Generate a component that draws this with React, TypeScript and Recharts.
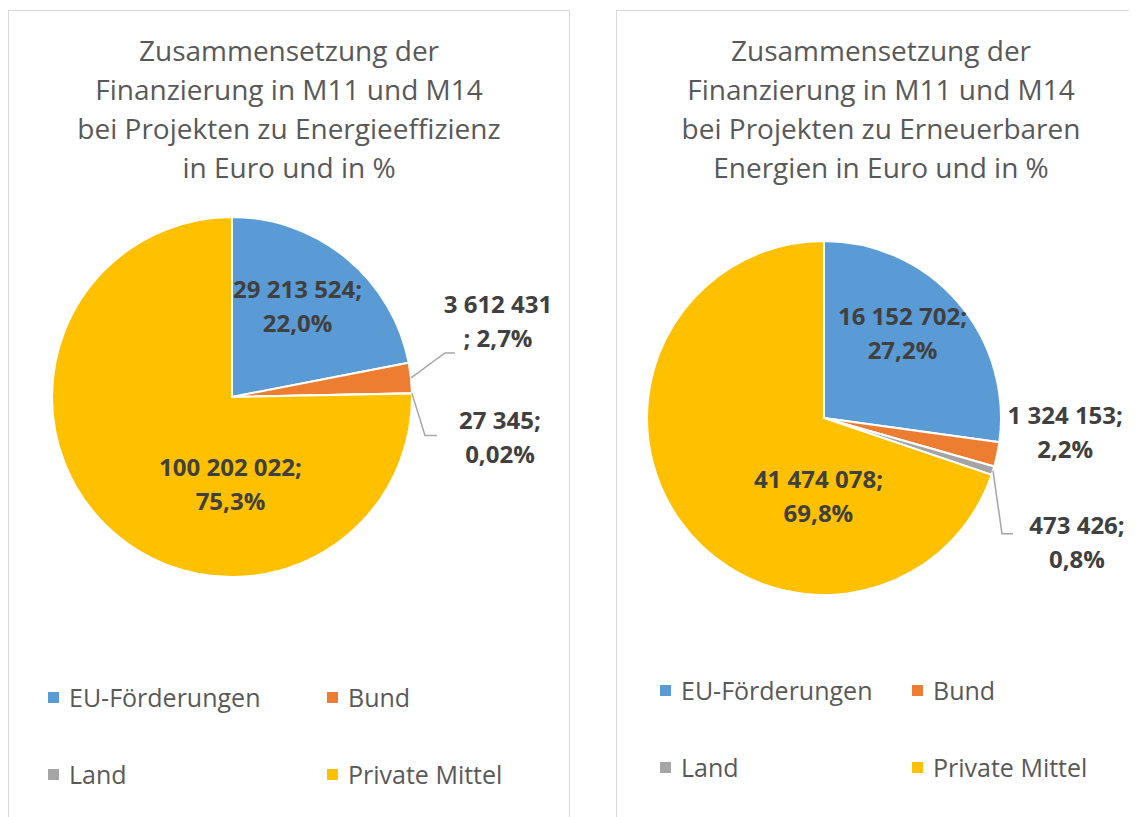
import { Cell, Legend, Pie, PieChart } from "recharts"

const categories = ["EU-Förderungen", "Bund", "Land", "Private Mittel"]
const colors = ["#5B9BD5", "#ED7D31", "#A5A5A5", "#FFC000"]

const effizienzValues = [29213524, 3612431, 27345, 100202022]
const erneuerbarValues = [16152702, 1324153, 473426, 41474078]

const effizienzTitle = [
    "Zusammensetzung der",
    "Finanzierung in M11 und M14",
    "bei Projekten zu Energieeffizienz",
    "in Euro und in %",
]
const erneuerbarTitle = [
    "Zusammensetzung der",
    "Finanzierung in M11 und M14",
    "bei Projekten zu Erneuerbaren",
    "Energien in Euro und in %",
]

// label placement per slice: inside (angle clockwise from top, radius factor)
// or outside (offsets from the slice's outer edge point)
const effizienzLabels = [
    { kind: "inside", angle: 36, radius: 0.62 },
    { kind: "outside", elbow: [34, -25], tail: 10, text: [87, -56], breakBeforeSemicolon: true },
    { kind: "outside", elbow: [13, 42], tail: 12, text: [88, 45] },
    { kind: "inside", angle: 181, radius: 0.49 },
]
const erneuerbarLabels = [
    { kind: "inside", angle: 43, radius: 0.65 },
    { kind: "outside", elbow: null, tail: 0, text: [68, -21] },
    { kind: "outside", elbow: [9, 63], tail: 11, text: [84, 72] },
    { kind: "inside", angle: 184, radius: 0.45 },
]

const FONT = "'Open Sans', 'Noto Sans', sans-serif"
const RAD = Math.PI / 180

const fmtNum = (v: number) => String(v).replace(/\B(?=(\d{3})+(?!\d))/g, " ")
const fmtPct = (p: number) => {
    const v = p * 100
    return (v < 0.1 ? v.toFixed(2) : v.toFixed(1)).replace(".", ",") + "%"
}

const makeLabel = (layout: any[]) => (props: any) => {
    const { cx, cy, midAngle, outerRadius, index, value, percent } = props
    const cfg = layout[index]
    const lines = cfg.breakBeforeSemicolon
        ? [fmtNum(value), "; " + fmtPct(percent)]
        : [fmtNum(value) + ";", fmtPct(percent)]
    let tx = 0
    let ty = 0
    let leader = null
    if (cfg.kind === "inside") {
        const a = (cfg.angle - 90) * RAD
        tx = cx + outerRadius * cfg.radius * Math.cos(a)
        ty = cy + outerRadius * cfg.radius * Math.sin(a)
    } else {
        const ex = cx + outerRadius * Math.cos(-midAngle * RAD)
        const ey = cy + outerRadius * Math.sin(-midAngle * RAD)
        tx = ex + cfg.text[0]
        ty = ey + cfg.text[1]
        if (cfg.elbow) {
            const bx = ex + cfg.elbow[0]
            const by = ey + cfg.elbow[1]
            leader = (
                <polyline
                    points={`${ex},${ey} ${bx},${by} ${bx + cfg.tail},${by}`}
                    fill="none"
                    stroke="#A6A6A6"
                    strokeWidth={1.5}
                />
            )
        }
    }
    return (
        <g>
            {leader}
            <text
                x={tx}
                y={ty}
                textAnchor="middle"
                fill="#404040"
                fontFamily={FONT}
                fontWeight={700}
                fontSize={24}
            >
                <tspan x={tx} dy={-17 + 8}>{lines[0]}</tspan>
                <tspan x={tx} dy={34}>{lines[1]}</tspan>
            </text>
        </g>
    )
}

const makeLegend = (colWidth: number) => (props: any) => {
    const payload = [...(props.payload || [])].sort(
        (a: any, b: any) => categories.indexOf(a.value) - categories.indexOf(b.value)
    )
    return (
        <div style={{ display: "grid", gridTemplateColumns: `${colWidth}px ${colWidth}px`, rowGap: 45, fontFamily: FONT }}>
            {payload.map((p: any) => (
                <div key={p.value} style={{ display: "flex", alignItems: "center", height: 32 }}>
                    <span style={{ width: 11, height: 11, background: p.color, marginRight: 10, display: "inline-block" }} />
                    <span style={{ fontSize: 25, color: "#595959" }}>{p.value}</span>
                </div>
            ))}
        </div>
    )
}

const Panel = ({ left, width, title, values, labels, cx, cy, r, legendLeft, legendTop, legendCol }: any) => {
    const data = categories.map((name, i) => ({ name, value: values[i] }))
    return (
        <div
            style={{
                position: "absolute",
                left,
                top: 2,
                width,
                height: 840,
                boxSizing: "border-box",
                border: "1px solid #D9D9D9",
                background: "#fff",
            }}
        >
            <div
                style={{
                    position: "absolute",
                    left: 0,
                    right: 0,
                    top: 20,
                    textAlign: "center",
                    fontFamily: FONT,
                    fontSize: 28,
                    lineHeight: "39px",
                    color: "#595959",
                    zIndex: 2,
                }}
            >
                {title.map((t: string) => (
                    <div key={t}>{t}</div>
                ))}
            </div>
            <PieChart width={width - 2} height={800} margin={{ top: 0, right: 0, bottom: 0, left: 0 }}>
                <Pie
                    data={data}
                    dataKey="value"
                    nameKey="name"
                    cx={cx}
                    cy={cy}
                    outerRadius={r}
                    startAngle={90}
                    endAngle={-270}
                    stroke="#fff"
                    strokeWidth={2}
                    labelLine={false}
                    label={makeLabel(labels)}
                    isAnimationActive={false}
                >
                    {data.map((d, i) => (
                        <Cell key={d.name} fill={colors[i]} />
                    ))}
                </Pie>
                <Legend
                    content={makeLegend(legendCol)}
                    wrapperStyle={{ position: "absolute", left: legendLeft, top: legendTop, width: legendCol * 2, bottom: "auto" }}
                />
            </PieChart>
        </div>
    )
}

const App = () => {
    return (
        <div style={{ position: "relative", width: 1129, height: 809, overflow: "hidden" }}>
            <Panel
                left={0}
                width={562}
                title={effizienzTitle}
                values={effizienzValues}
                labels={effizienzLabels}
                cx={223}
                cy={386}
                r={180}
                legendLeft={39}
                legendTop={670}
                legendCol={279}
            />
            <Panel
                left={608}
                width={530}
                title={erneuerbarTitle}
                values={erneuerbarValues}
                labels={erneuerbarLabels}
                cx={207}
                cy={407}
                r={177}
                legendLeft={43}
                legendTop={663}
                legendCol={252}
            />
        </div>
    )
}

export default App
